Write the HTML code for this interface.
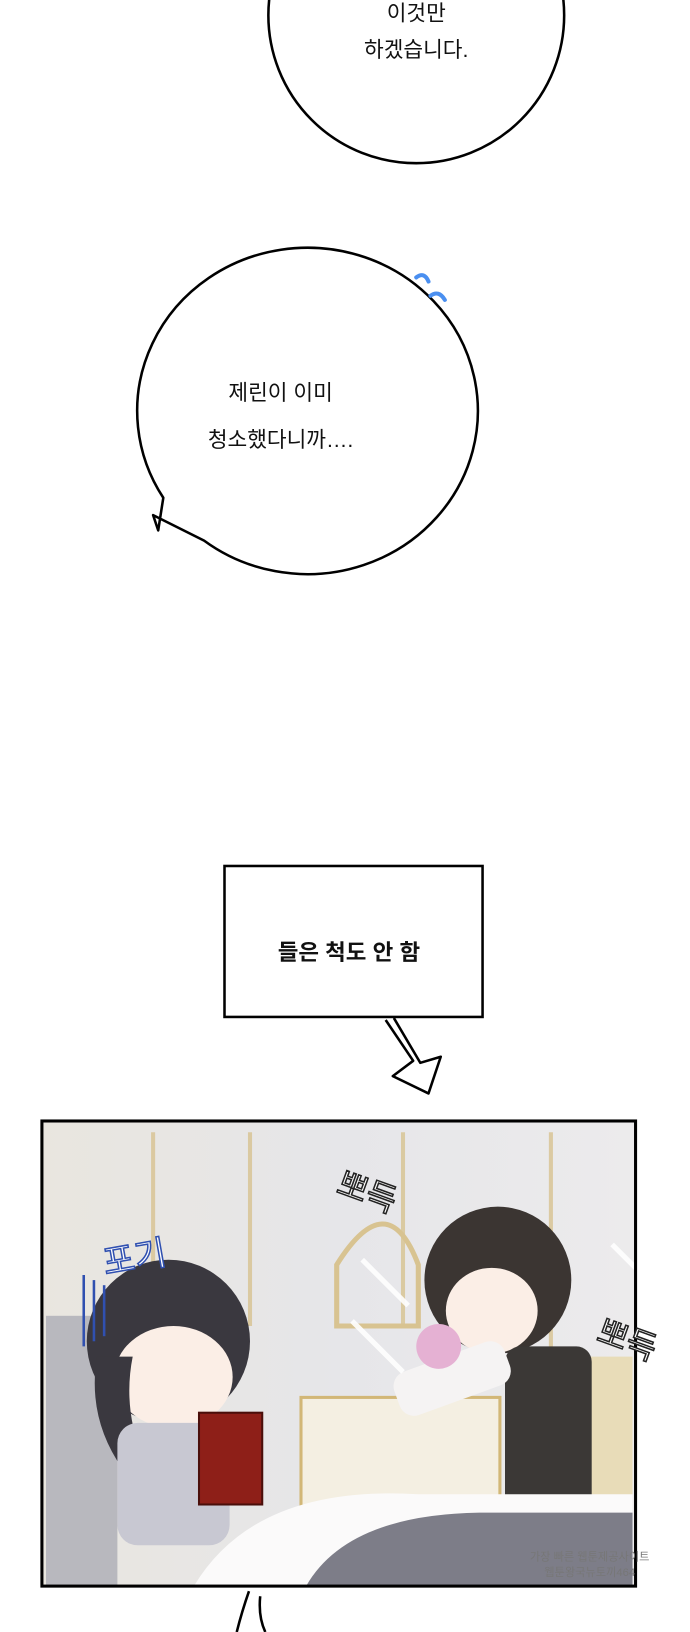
<!DOCTYPE html>
<html><head><meta charset="utf-8"><style>
html,body{margin:0;width:690px;height:1600px;background:#fff;overflow:hidden}
svg{position:absolute;left:0;top:0;font-family:"Liberation Sans","Noto Sans CJK KR",sans-serif}
</style></head><body>
<svg width="704" height="1632" viewBox="0 0 690 1600">
<circle cx="408" cy="15" r="145" fill="#fff" stroke="#000" stroke-width="2.5"/>
<path d="M160,488 A167,160 0 1 1 200,530 L150,505 L155,520 Z" fill="#fff" stroke="#000" stroke-width="2.5" stroke-linejoin="round"/>
<path d="M408,272 q8,-6 12,4 M422,290 q8,-6 14,4" fill="none" stroke="#4a8ff0" stroke-width="4" stroke-linecap="round"/>
<rect x="220" y="849" width="253" height="148" fill="#fff" stroke="#000" stroke-width="2.5"/>
<path d="M378,1000 L405,1040 L385,1055 L420,1072 L432,1036 L412,1042 L386,998" fill="#fff" stroke="#000" stroke-width="2.5" stroke-linejoin="round"/>
<defs><linearGradient id="bg" x1="0" y1="0" x2="1" y2="0"><stop offset="0" stop-color="#e9e6df"/><stop offset="0.5" stop-color="#e6e6e9"/><stop offset="1" stop-color="#ecebec"/></linearGradient></defs>
<rect x="41" y="1099" width="582" height="456" fill="url(#bg)"/>
<g stroke="#d8c391" stroke-width="4" opacity="0.8">
<line x1="150" y1="1110" x2="150" y2="1300"/><line x1="245" y1="1110" x2="245" y2="1300"/><line x1="395" y1="1110" x2="395" y2="1300"/><line x1="540" y1="1110" x2="540" y2="1400"/>
</g>
<path d="M330,1240 q50,-80 80,0 l0,60 h-80z" fill="none" stroke="#d8c391" stroke-width="5"/>
<rect x="45" y="1290" width="70" height="265" fill="#b8b8be"/>
<rect x="295" y="1370" width="195" height="180" fill="#f4efe2" stroke="#d2b777" stroke-width="3"/>
<path d="M560,1330 h60 v220 h-60z" fill="#e8dcb8"/>
<ellipse cx="165" cy="1315" rx="80" ry="80" fill="#3a383f"/>
<ellipse cx="170" cy="1350" rx="58" ry="50" fill="#fbeee6"/>
<path d="M95,1330 q-10,60 25,110 l20,-10 q-20,-50 -10,-100z" fill="#3a383f"/>
<rect x="115" y="1395" width="110" height="120" rx="20" fill="#c8c8d2"/>
<rect x="195" y="1385" width="62" height="90" fill="#8e1f18" stroke="#4a0e0a" stroke-width="2"/>
<ellipse cx="488" cy="1255" rx="72" ry="72" fill="#3b3532"/>
<ellipse cx="482" cy="1285" rx="45" ry="42" fill="#fbeee6"/>
<rect x="495" y="1320" width="85" height="190" rx="15" fill="#3b3836"/>
<rect x="385" y="1330" width="115" height="45" rx="15" fill="#f5f3f3" transform="rotate(-20 440 1350)"/>
<circle cx="430" cy="1320" r="22" fill="#e5b1d3"/>
<path d="M190,1555 q60,-100 220,-90 l210,0 v90z" fill="#fbfafa"/>
<path d="M300,1555 q40,-70 170,-72 h150 v72z" fill="#7d7d88"/>
<g stroke="#fff" stroke-width="5" opacity="0.9"><line x1="355" y1="1235" x2="400" y2="1280"/><line x1="345" y1="1295" x2="395" y2="1345"/><line x1="600" y1="1220" x2="640" y2="1260"/></g>
<rect x="41" y="1099" width="582" height="456" fill="none" stroke="#000" stroke-width="3"/>
<path d="M232,1600 q5,-20 12,-40 M255,1565 q-2,20 5,35" fill="none" stroke="#000" stroke-width="2.5"/>
<text x="100" y="1245" font-size="34" fill="#fff" stroke="#3050b0" stroke-width="1.5" transform="rotate(-10 130 1230)">포기</text>
<text x="330" y="1180" font-size="32" fill="#fff" stroke="#222" stroke-width="1.5" transform="rotate(20 360 1170)">뽀득</text>
<text x="585" y="1325" font-size="32" fill="#fff" stroke="#222" stroke-width="1.5" transform="rotate(20 615 1315)">뽀득</text>
<g stroke="#3050b0" stroke-width="2.5"><line x1="82" y1="1250" x2="82" y2="1320"/><line x1="92" y1="1255" x2="92" y2="1315"/><line x1="102" y1="1260" x2="102" y2="1310"/></g>
<text x="578" y="1530" font-size="11" fill="#777" text-anchor="middle">가장 빠른 웹툰제공사이트</text>
<text x="578" y="1545" font-size="11" fill="#777" text-anchor="middle">웹툰왕국뉴토끼464</text>
<g font-size="21" fill="#111" text-anchor="middle">
<text x="408" y="20">이것만</text>
<text x="408" y="56">하겠습니다.</text>
<text x="275" y="392">제린이 이미</text>
<text x="275" y="438">청소했다니까….</text>
<text x="342" y="941" font-weight="bold" font-size="22">들은 척도 안 함</text>
</g>
</svg>
</body></html>
